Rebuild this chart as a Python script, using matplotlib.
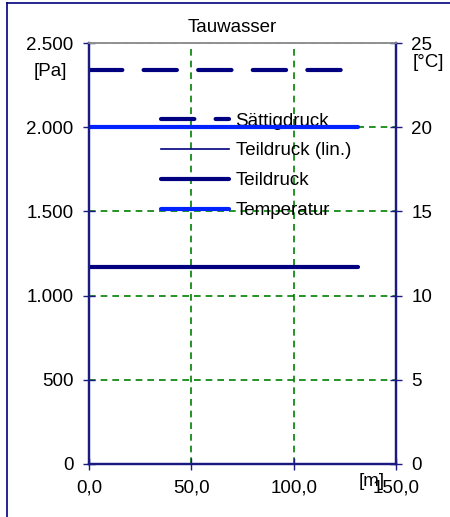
import matplotlib.pyplot as plt
from matplotlib.lines import Line2D
from matplotlib.ticker import FuncFormatter

plt.rcParams['font.family'] = ['Liberation Sans', 'DejaVu Sans']

# data
x_pos = [0.0, 131.5]
saettigdruck = [2340, 2340]
teildruck_lin = [1170, 1170]
teildruck = [1170, 1170]
temperatur = [20.0, 20.0]

x_ticks = [0, 50, 100, 150]
pa_ticks = [0, 500, 1000, 1500, 2000, 2500]
c_ticks = [0, 5, 10, 15, 20, 25]

navy = '#000080'
blue = '#0022ff'
green = '#008000'
fs = 13.5

fig = plt.figure(figsize=(4.5, 5.17), dpi=100)
ax = fig.add_axes([89 / 450, 1 - 464 / 517, 307 / 450, 421 / 517])
ax2 = ax.twinx()

ax.set_xlim(0, 150)
ax.set_ylim(0, 2500)
ax2.set_ylim(0, 25)

ax.set_xticks(x_ticks)
ax.set_yticks(pa_ticks)
ax2.set_yticks(c_ticks)
ax.xaxis.set_major_formatter(FuncFormatter(lambda v, p: f'{v:.1f}'.replace('.', ',')))
ax.yaxis.set_major_formatter(FuncFormatter(lambda v, p: f'{int(v):,}'.replace(',', '.')))

ax.grid(True, color=green, linestyle=(0, (4, 3)), linewidth=1.2)
ax.set_axisbelow(True)

for a in (ax, ax2):
    for s in ('left', 'right', 'bottom'):
        a.spines[s].set_color('#1a1a80')
        a.spines[s].set_linewidth(1.6)
    a.spines['top'].set_color('#909090')
    a.spines['top'].set_linewidth(1.2)
    a.tick_params(direction='inout', length=8, width=1.0, color='#1a1a80',
                  labelsize=fs, pad=7)

h1, = ax.plot(x_pos, saettigdruck, color=navy, linewidth=3,
              linestyle=(0, (8.0, 5.1)), dash_capstyle='round', solid_capstyle='round',
              label='Sättigdruck')
h2, = ax.plot(x_pos, teildruck_lin, color=navy, linewidth=1.2, label='Teildruck (lin.)')
h3, = ax.plot(x_pos, teildruck, color=navy, linewidth=3, solid_capstyle='round',
              label='Teildruck')
h4, = ax2.plot(x_pos, temperatur, color=blue, linewidth=3, solid_capstyle='round',
               label='Temperatur')

leg = ax2.legend(handles=[h1, h2, h3, h4], loc='upper left',
                 bbox_to_anchor=(0.235, 0.835), frameon=False, fontsize=fs,
                 handlelength=3.6, handletextpad=0.37, labelspacing=0.68,
                 borderpad=0, borderaxespad=0)
leg.set_zorder(1)

fig.text(232 / 450, 1 - 28 / 517, 'Tauwasser', ha='center', va='center', fontsize=fs)
fig.text(50 / 450, 1 - 72 / 517, '[Pa]', ha='center', va='center', fontsize=fs)
fig.text(428 / 450, 1 - 63 / 517, '[°C]', ha='center', va='center', fontsize=fs)
fig.text(372 / 450, 1 - 482 / 517, '[m]', ha='center', va='center', fontsize=fs)

# outer frame lines (left and top)
fig.add_artist(Line2D([7 / 450, 7 / 450], [0, 1 - 3 / 517], transform=fig.transFigure,
                      color=navy, linewidth=1.2))
fig.add_artist(Line2D([7 / 450, 1], [1 - 3 / 517, 1 - 3 / 517], transform=fig.transFigure,
                      color=navy, linewidth=1.2))

fig.savefig('out.png', dpi=100)
